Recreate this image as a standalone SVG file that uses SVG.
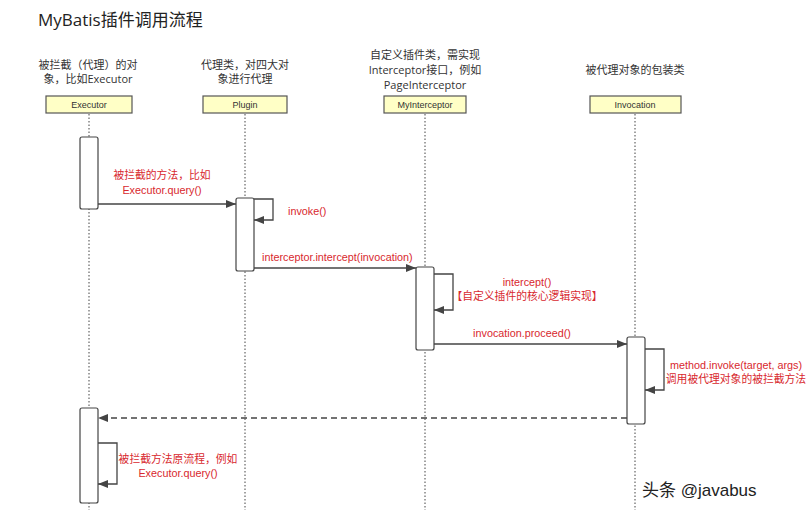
<svg xmlns="http://www.w3.org/2000/svg" width="806" height="510" viewBox="0 0 806 510">
<style>
text{font-family:"Liberation Sans","Noto Sans CJK SC",sans-serif}
.title{font-size:17px;fill:#222;font-family:"Open Sans","Noto Sans CJK SC",sans-serif}
.desc{font-size:11px;fill:#333;text-anchor:middle;font-family:"Open Sans","Noto Sans CJK SC",sans-serif}
.hdr{fill:#ffffc6;stroke:#555;stroke-width:1.2}
.hdrt{font-size:9px;fill:#333;text-anchor:middle}
.life{stroke:#444;stroke-width:1;stroke-dasharray:1.5 2}
.act{fill:#fff;stroke:#444;stroke-width:1.2}
.msg{fill:none;stroke:#444;stroke-width:1.3}
.ret{fill:none;stroke:#444;stroke-width:1.3;stroke-dasharray:6 4}
.lbl{font-size:10.8px;fill:#d8282e}
.c{text-anchor:middle}
</style>
<defs>
<marker id="ah" viewBox="0 0 10 10" refX="10" refY="5" markerWidth="10" markerHeight="10" markerUnits="userSpaceOnUse" orient="auto">
<path d="M0,1 L10,5 L0,9 Z" fill="#444"/>
</marker>
</defs>
<rect width="806" height="510" fill="#fff"/>
<text class="title" x="38" y="26">MyBatis插件调用流程</text>

<g id="lifelines">
<line class="life" x1="89" y1="114" x2="89" y2="510"/>
<line class="life" x1="245" y1="114" x2="245" y2="510"/>
<line class="life" x1="425" y1="114" x2="425" y2="510"/>
<line class="life" x1="635" y1="114" x2="635" y2="510"/>
</g>

<g id="executor">
<text class="desc" x="88" y="69">被拦截（代理）的对</text>
<text class="desc" x="88" y="83">象，比如Executor</text>
<rect class="hdr" x="46" y="96" width="86" height="17"/>
<text class="hdrt" x="89" y="108">Executor</text>
</g>
<g id="plugin">
<text class="desc" x="245" y="69">代理类，对四大对</text>
<text class="desc" x="245" y="83">象进行代理</text>
<rect class="hdr" x="203" y="96" width="84" height="17"/>
<text class="hdrt" x="245" y="108">Plugin</text>
</g>
<g id="myinterceptor">
<text class="desc" x="425" y="59">自定义插件类，需实现</text>
<text class="desc" x="425" y="74">Interceptor接口，例如</text>
<text class="desc" x="425" y="89">PageInterceptor</text>
<rect class="hdr" x="384" y="96" width="82" height="17"/>
<text class="hdrt" x="425" y="108">MyInterceptor</text>
</g>
<g id="invocation">
<text class="desc" x="635" y="74">被代理对象的包装类</text>
<rect class="hdr" x="590" y="96" width="91" height="17"/>
<text class="hdrt" x="635" y="108">Invocation</text>
</g>

<g id="activations">
<rect class="act" x="80" y="137" width="18" height="72" rx="2"/>
<rect class="act" x="236" y="198" width="18" height="73" rx="2"/>
<rect class="act" x="416" y="267" width="18" height="83" rx="2"/>
<rect class="act" x="627" y="337" width="18" height="87" rx="2"/>
<rect class="act" x="80" y="408" width="18" height="95" rx="2"/>
</g>

<g id="connectors">
<line class="msg" x1="98" y1="204" x2="236" y2="204" marker-end="url(#ah)"/>
<polyline class="msg" points="254,199 273,199 273,220 254,220" marker-end="url(#ah)"/>
<line class="msg" x1="254" y1="268" x2="416" y2="268" marker-end="url(#ah)"/>
<polyline class="msg" points="434,274 453,274 453,310 434,310" marker-end="url(#ah)"/>
<line class="msg" x1="434" y1="344" x2="627" y2="344" marker-end="url(#ah)"/>
<polyline class="msg" points="645,349 664,349 664,390 645,390" marker-end="url(#ah)"/>
<line class="ret" x1="627" y1="418" x2="98" y2="418" marker-end="url(#ah)"/>
<polyline class="msg" points="98,443 117,443 117,484 98,484" marker-end="url(#ah)"/>
</g>

<g id="labels">
<text class="lbl c" x="162" y="179">被拦截的方法，比如</text>
<text class="lbl c" x="162" y="194">Executor.query()</text>
<text class="lbl" x="288" y="215">invoke()</text>
<text class="lbl" x="262" y="261">interceptor.intercept(invocation)</text>
<text class="lbl c" x="527" y="286">intercept()</text>
<text class="lbl c" x="527" y="300">【自定义插件的核心逻辑实现】</text>
<text class="lbl c" x="522" y="337">invocation.proceed()</text>
<text class="lbl c" x="736" y="369">method.invoke(target, args)</text>
<text class="lbl c" x="736" y="383">调用被代理对象的被拦截方法</text>
<text class="lbl c" x="178" y="463">被拦截方法原流程，例如</text>
<text class="lbl c" x="178" y="477">Executor.query()</text>
</g>

<g id="watermark">
<text x="642" y="496" font-size="17" fill="#222">头条 @javabus</text>
</g>
</svg>
